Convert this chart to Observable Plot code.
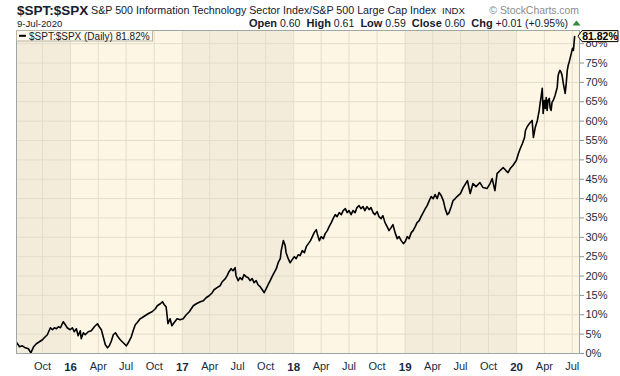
<!DOCTYPE html>
<html><head><meta charset="utf-8">
<script src="https://cdn.jsdelivr.net/npm/d3@7"></script>
<script src="https://cdn.jsdelivr.net/npm/@observablehq/plot@0.6"></script>
<style>
html,body{margin:0;padding:0;background:#fff;}
#chart{position:relative;width:620px;height:376px;}
svg text{font-family:"Liberation Sans",Arial,sans-serif;}
</style></head><body><div id="chart"></div>
<script>
const dates = [
"2015-07-09","2015-07-18","2015-07-27","2015-08-06","2015-08-16","2015-08-24","2015-09-02","2015-09-11","2015-09-21","2015-10-01",
"2015-10-07","2015-10-17","2015-10-27","2015-11-03","2015-11-09","2015-11-16","2015-11-22","2015-11-29","2015-12-05","2015-12-08",
"2015-12-15","2015-12-21","2015-12-31","2016-01-07","2016-01-13","2016-01-20","2016-01-26","2016-02-02","2016-02-05","2016-02-12",
"2016-02-18","2016-02-28","2016-03-09","2016-03-19","2016-03-29","2016-04-04","2016-04-11","2016-04-17","2016-04-24","2016-05-01",
"2016-05-07","2016-05-14","2016-05-20","2016-05-27","2016-06-02","2016-06-09","2016-06-15","2016-06-25","2016-07-02","2016-07-08",
"2016-07-18","2016-07-24","2016-07-31","2016-08-06","2016-08-16","2016-08-22","2016-09-01","2016-09-11","2016-09-17","2016-09-24",
"2016-10-05","2016-10-11","2016-10-21","2016-10-28","2016-11-03","2016-11-09","2016-11-12","2016-11-15","2016-11-22","2016-11-28",
"2016-12-05","2016-12-15","2016-12-25","2017-01-04","2017-01-14","2017-01-24","2017-02-06","2017-02-16","2017-03-01","2017-03-11",
"2017-03-20","2017-03-30","2017-04-09","2017-04-15","2017-04-25","2017-05-05","2017-05-12","2017-05-22","2017-05-28","2017-06-03",
"2017-06-10","2017-06-16","2017-06-23","2017-06-26","2017-07-03","2017-07-09","2017-07-16","2017-07-22","2017-07-29","2017-08-05",
"2017-08-11","2017-08-18","2017-08-24","2017-08-31","2017-09-06","2017-09-13","2017-09-20","2017-09-26","2017-10-03","2017-10-09",
"2017-10-16","2017-10-22","2017-10-29","2017-11-05","2017-11-11","2017-11-18","2017-11-21","2017-11-28","2017-12-04","2017-12-07",
"2017-12-14","2017-12-20","2017-12-27","2018-01-03","2018-01-09","2018-01-16","2018-01-22","2018-01-29","2018-02-05","2018-02-11",
"2018-02-18","2018-02-25","2018-03-03","2018-03-09","2018-03-16","2018-03-19","2018-03-26","2018-04-01","2018-04-08","2018-04-14",
"2018-04-21","2018-04-27","2018-05-04","2018-05-10","2018-05-17","2018-05-23","2018-05-30","2018-06-06","2018-06-12","2018-06-19",
"2018-06-25","2018-07-01","2018-07-08","2018-07-14","2018-07-21","2018-07-27","2018-08-03","2018-08-09","2018-08-16","2018-08-22",
"2018-08-29","2018-09-05","2018-09-11","2018-09-18","2018-09-24","2018-10-01","2018-10-07","2018-10-14","2018-10-20","2018-10-27",
"2018-11-03","2018-11-09","2018-11-16","2018-11-22","2018-11-29","2018-12-06","2018-12-12","2018-12-19","2018-12-26","2019-01-01",
"2019-01-08","2019-01-14","2019-01-21","2019-01-27","2019-02-03","2019-02-09","2019-02-16","2019-02-22","2019-03-01","2019-03-08",
"2019-03-14","2019-03-21","2019-03-27","2019-04-03","2019-04-09","2019-04-16","2019-04-22","2019-04-29","2019-05-06","2019-05-12",
"2019-05-19","2019-05-25","2019-06-01","2019-06-07","2019-06-14","2019-06-20","2019-06-27","2019-07-01","2019-07-10","2019-07-24",
"2019-08-02","2019-08-11","2019-08-21","2019-09-03","2019-09-13","2019-09-26","2019-10-06","2019-10-13","2019-10-22","2019-10-29",
"2019-11-08","2019-11-18","2019-11-27","2019-12-04","2019-12-11","2019-12-20","2019-12-31","2020-01-07","2020-01-13","2020-01-20",
"2020-01-27","2020-01-30","2020-02-05","2020-02-12","2020-02-18","2020-02-21","2020-02-25","2020-03-02","2020-03-09","2020-03-15",
"2020-03-18","2020-03-22","2020-03-25","2020-03-28","2020-04-01","2020-04-04","2020-04-07","2020-04-10","2020-04-13","2020-04-17",
"2020-04-20","2020-04-23","2020-04-26","2020-04-30","2020-05-06","2020-05-13","2020-05-16","2020-05-19","2020-05-22","2020-05-26",
"2020-05-29","2020-06-02","2020-06-05","2020-06-08","2020-06-11","2020-06-15","2020-06-18","2020-06-21","2020-06-25","2020-07-02",
"2020-07-05","2020-07-08","2020-07-09"
];
const values = [
2.77,1.73,1.99,1.47,1.22,0.18,1.73,2.51,3.03,3.54,
4.06,4.84,6.65,6.13,6.65,6.39,6.90,6.65,7.68,8.20,
7.42,6.65,6.13,6.65,5.61,6.39,4.58,5.87,3.80,5.35,
4.84,5.61,5.87,6.90,7.68,6.90,6.13,4.32,2.25,1.47,
1.99,3.28,4.84,5.35,4.58,3.80,3.28,2.51,1.99,2.77,
4.32,5.87,7.42,7.94,8.97,9.23,9.75,10.27,10.52,10.78,
11.56,12.33,12.85,13.37,12.59,12.07,10.00,7.68,8.97,7.16,
7.94,8.97,8.71,8.97,10.00,10.78,12.33,12.85,13.37,13.63,
14.40,14.92,15.70,16.47,16.99,17.50,18.54,19.32,20.09,21.12,
21.90,21.38,22.16,20.09,18.80,19.57,19.06,20.35,19.83,19.57,
18.80,19.32,18.28,18.80,17.76,17.25,16.47,15.70,16.73,17.76,
18.80,19.83,20.87,21.90,23.45,24.49,26.56,29.14,27.85,26.04,
24.49,23.45,24.23,25.00,24.49,25.52,25.26,26.56,26.04,27.59,
28.37,29.14,30.17,31.21,31.98,30.95,29.14,30.17,29.66,30.95,
31.73,32.76,33.79,34.83,35.86,35.35,36.38,35.86,36.90,37.41,
36.38,36.90,35.86,36.90,36.38,37.67,38.19,37.41,37.93,36.90,
37.93,37.15,37.67,36.38,35.86,36.64,35.35,34.83,35.60,33.79,
32.76,31.73,32.50,33.28,31.21,29.66,30.17,29.14,28.37,28.88,
30.17,29.66,31.21,31.73,32.76,33.79,34.31,35.35,36.38,37.41,
38.19,39.48,40.52,40.00,41.04,40.00,41.55,40.78,39.48,37.41,
35.86,36.38,37.93,39.48,40.00,40.52,41.04,41.30,42.84,44.65,
41.30,43.88,43.10,44.14,42.84,42.59,43.88,45.17,42.07,46.46,
47.24,48.01,47.24,46.72,47.76,48.53,49.82,51.63,52.93,54.22,
55.77,57.58,58.62,59.39,59.91,60.17,55.77,58.36,60.17,62.76,
64.57,66.64,68.45,61.98,65.34,63.27,66.11,62.76,65.34,65.86,
63.27,62.76,64.82,65.34,66.64,68.70,71.80,72.58,73.10,72.58,
71.80,69.73,68.45,67.15,69.21,73.10,74.40,75.17,76.46,78.78,
78.27,80.86,81.82
];
const yTicks = [0,5,10,15,20,25,30,35,40,45,50,55,60,65,70,75,80];
const monthTicks = ["2015-10-01","2016-04-01","2016-07-01","2016-10-01","2017-04-01","2017-07-01","2017-10-01",
  "2018-04-01","2018-07-01","2018-10-01","2019-04-01","2019-07-01","2019-10-01","2020-04-01","2020-07-01"];
const yearTicks = ["2016-01-01","2017-01-01","2018-01-01","2019-01-01","2020-01-01"];
const bandStarts = ["2015-07-08","2016-01-01","2017-01-01","2018-01-01","2019-01-01","2020-01-01"];
const bandEnds   = ["2016-01-01","2017-01-01","2018-01-01","2019-01-01","2020-01-01","2020-07-25"];
const bandShade  = ["dark","light","dark","light","dark","light"];
const xDomain = ["2015-07-08","2020-07-25"];
const yDomain = [0, 83.4];

const symbol = "$SPT:$SPX";
const subtitle = "S&P 500 Information Technology Sector Index/S&P 500 Large Cap Index";
const exchange = "INDX";
const credit = "\u00A9 StockCharts.com";
const dateLabel = "9-Jul-2020";
const quote = [["Open","0.60"],["High","0.61"],["Low","0.59"],["Close","0.60"],["Chg","+0.01 (+0.95%)"]];
const legendLabel = "$SPT:$SPX (Daily) 81.82%";
const lastLabel = "81.82%";

const parse = d3.utcParse("%Y-%m-%d");
const data = dates.map((d, i) => ({date: parse(d), value: values[i]}));
const bands = bandStarts.map((s, i) => ({x1: parse(s), x2: parse(bandEnds[i]), shade: bandShade[i]}));
const ink = "#1a2c40";
const gridColor = "#e4ddca";

const chart = Plot.plot({
  width: 620, height: 376,
  marginTop: 30, marginBottom: 23, marginLeft: 16, marginRight: 41,
  style: {fontFamily: '"Liberation Sans", Arial, sans-serif', fontSize: "11px", background: "transparent", overflow: "visible"},
  x: {type: "utc", domain: xDomain.map(parse)},
  y: {domain: yDomain},
  marks: [
    Plot.rect(bands, {x1: "x1", x2: "x2", fill: d => d.shade === "dark" ? "#f3ecdb" : "#fdf6e4"}),
    Plot.ruleY(yTicks, {stroke: gridColor}),
    Plot.ruleX(monthTicks.concat(yearTicks).map(parse), {stroke: gridColor}),
    Plot.line(data, {x: "date", y: "value", stroke: "#000", strokeWidth: 1.6}),
    Plot.frame({stroke: "#9ea7a7"}),
    Plot.axisY({anchor: "right", ticks: yTicks, tickFormat: d => d + "%", tickSize: 4, tickPadding: 2,
      stroke: "#8d9797", fill: ink, fontSize: 11, label: null}),
    Plot.axisX({ticks: monthTicks.map(parse), tickFormat: d3.utcFormat("%b"), tickSize: 0, tickPadding: 9,
      fill: ink, fontSize: 11, label: null}),
    Plot.axisX({ticks: yearTicks.map(parse), tickFormat: d3.utcFormat("%y"), tickSize: 0, tickPadding: 9,
      fill: ink, fontSize: 11.5, fontWeight: "bold", label: null})
  ]
});
document.getElementById("chart").appendChild(chart);

const svg = d3.select(chart);
const ys = chart.scale("y");
const frameLeft = 16, frameTop = 30;

// header
const h = svg.append("g").attr("fill", "#14202c").attr("text-anchor", "start");
h.append("text").attr("x", 17).attr("y", 14.5).attr("font-size", 13.5).attr("font-weight", "bold").text(symbol);
h.append("text").attr("x", 91).attr("y", 14).attr("font-size", 10.7).text(subtitle);
h.append("text").attr("x", 442).attr("y", 14).attr("font-size", 9.6).text(exchange);
h.append("text").attr("x", 579).attr("y", 14).attr("font-size", 10.4).attr("fill", "#8c8c8c").attr("text-anchor", "end").text(credit);
h.append("text").attr("x", 17).attr("y", 26.5).attr("font-size", 9.6).text(dateLabel);
const q = h.append("text").attr("x", 568).attr("y", 26.5).attr("text-anchor", "end");
quote.forEach(([k, v], i) => {
  q.append("tspan").attr("font-weight", "bold").attr("font-size", 11).text((i ? "  " : "") + k);
  q.append("tspan").attr("font-size", 10.5).text(" " + v);
});
h.append("path").attr("d", "M572.5,25.5 L580.5,25.5 L576.5,20.5 Z").attr("fill", "#2e8b3a");

// legend
const lg = svg.append("g").attr("text-anchor", "start");
lg.append("rect").attr("x", frameLeft + 0.5).attr("y", frameTop + 0.5).attr("width", 136).attr("height", 10.5)
  .attr("fill", "#fdf8ea").attr("stroke", "#b9b6a6");
lg.append("line").attr("x1", 19).attr("x2", 26).attr("y1", frameTop + 5.8).attr("y2", frameTop + 5.8).attr("stroke", "#000").attr("stroke-width", 2);
lg.append("text").attr("x", 29).attr("y", frameTop + 9.5).attr("font-size", 10).attr("fill", "#14202c").text(legendLabel);

// last value tag
const last = data[data.length - 1];
const ly = ys.apply(last.value);
const lx = 578;
const tag = svg.append("g");
tag.append("path")
  .attr("d", `M${lx},${ly} L${lx + 4},${ly - 5.5} L${lx + 40},${ly - 5.5} L${lx + 40},${ly + 5.5} L${lx + 4},${ly + 5.5} Z`)
  .attr("fill", "#fffbe9").attr("stroke", "#000").attr("stroke-width", 1);
tag.append("text").attr("x", lx + 22).attr("y", ly + 4).attr("text-anchor", "middle")
  .attr("font-size", 10.5).attr("font-weight", "bold").attr("fill", "#000").text(lastLabel);
</script></body></html>
